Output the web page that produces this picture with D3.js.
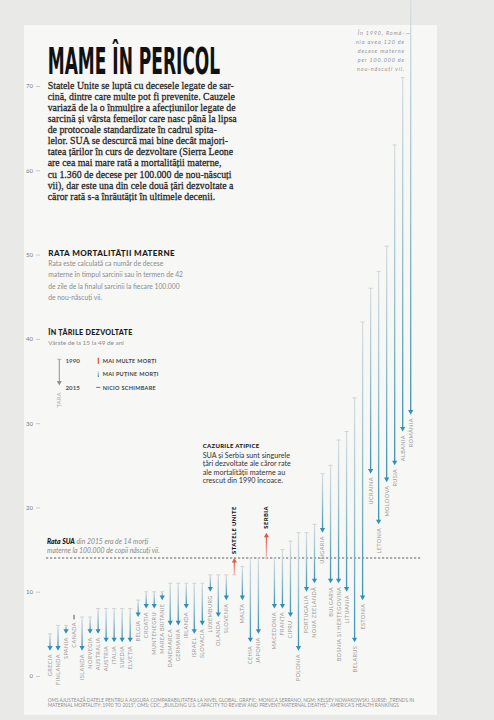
<!DOCTYPE html>
<html><head><meta charset="utf-8">
<script src="https://cdn.jsdelivr.net/npm/d3@7"></script>
<style>
html,body{margin:0;padding:0;background:#e9e9e7;}
svg{display:block;}
</style></head>
<body>
<script>
// ---------- DATA ----------
const countries = ["GRECIA","FINLANDA","SPANIA","CANADA","ISLANDA","NORVEGIA","AUSTRALIA","AUSTRIA","ITALIA","SUEDIA","ELVEȚIA","BELGIA","CROAȚIA","MUNTENEGRU","MAREA BRITANIE","DANEMARCA","GERMANIA","IRLANDA","ISRAEL","SLOVACIA","LUXEMBURG","OLANDA","SLOVENIA","STATELE UNITE","MALTA","CEHIA","JAPONIA","SERBIA","MACEDONIA","FRANȚA","CIPRU","POLONIA","PORTUGALIA","NOUA ZEELANDĂ","UNGARIA","BULGARIA","BOSNIA ȘI HERȚEGOVINA","LITUANIA","BELARUS","ESTONIA","UCRAINA","LETONIA","MOLDOVA","RUSIA","ALBANIA","ROMÂNIA"];
const rate1990 = [5,6,6,7,7,7,8,8,8,8,8,9,10,10,10,11,11,11,11,11,12,12,12,12,13,14,14,14,14,15,16,17,17,18,24,25,28,29,33,42,46,48,51,63,71,120];
const rate2015 = [3,3,5,7,3,5,5,4,4,4,4,7,8,8,9,6,6,8,5,6,10,7,9,14,9,4,5,17,8,8,7,3,10,11,17,11,11,10,4,9,24,18,23,25,29,31];
const yTicks = [0,10,20,30,40,50,60,70];
const usRate2015 = 14;

const title = "MAME ÎN PERICOL";
const introLines = [
"Statele Unite se luptă cu decesele legate de sar-",
"cină, dintre care multe pot fi prevenite. Cauzele",
"variază de la o înmulțire a afecțiunilor legate de",
"sarcină și vârsta femeilor care nasc până la lipsa",
"de protocoale standardizate în cadrul spita-",
"lelor. SUA se descurcă mai bine decât majori-",
"tatea țărilor în curs de dezvoltare (Sierra Leone",
"are cea mai mare rată a mortalității materne,",
"cu 1.360 de decese per 100.000 de nou-născuți",
"vii), dar este una din cele două țări dezvoltate a",
"căror rată s-a înrăutățit în ultimele decenii."];
const rateHead = "RATA MORTALITĂȚII MATERNE";
const rateLines = ["Rata este calculată ca număr de decese","materne în timpul sarcinii sau în termen de 42","de zile de la finalul sarcinii la fiecare 100.000","de nou-născuți vii."];
const devHead = "ÎN ȚĂRILE DEZVOLTATE";
const devSub = "Vârste de la 15 la 49 de ani";
const legendYears = ["1990","2015"];
const legendCountry = "ȚARA";
const legendItems = ["MAI MULTE MORȚI","MAI PUȚINE MORȚI","NICIO SCHIMBARE"];
const outlierHead = "CAZURILE ATIPICE";
const outlierLines = ["SUA și Serbia sunt singurele","țări dezvoltate ale căror rate","ale mortalității materne au","crescut din 1990 încoace."];
const usNoteBold = "Rata SUA";
const usNoteLines = [" din 2015 era de 14 morți","materne la 100.000 de copii născuți vii."];
const romaniaNote = ["În 1990, Româ-","nia avea 120 de","decese materne","per 100.000 de","nou-născuți vii."];
const footerLines = ["OMS AJUSTEAZĂ DATELE PENTRU A ASIGURA COMPARABILITATEA LA NIVEL GLOBAL. GRAFIC: MONICA SERRANO, NGM; KELSEY NOWAKOWSKI. SURSE: „TRENDS IN",
"MATERNAL MORTALITY: 1990 TO 2015”, OMS; CDC, „BUILDING U.S. CAPACITY TO REVIEW AND PREVENT MATERNAL DEATHS”; AMERICA'S HEALTH RANKINGS"];

// ---------- SETUP ----------
const W = 494, H = 720;
const svg = d3.select("body").append("svg").attr("width", W).attr("height", H);
const defs = svg.append("defs");
const gDown = defs.append("linearGradient").attr("id","gDown").attr("x1",0).attr("y1",0).attr("x2",0).attr("y2",1);
gDown.append("stop").attr("offset","0%").attr("stop-color","#dadee1");
gDown.append("stop").attr("offset","45%").attr("stop-color","#9cc3d4");
gDown.append("stop").attr("offset","100%").attr("stop-color","#3d92b6");
const gUp = defs.append("linearGradient").attr("id","gUp").attr("x1",0).attr("y1",0).attr("x2",0).attr("y2",1);
gUp.append("stop").attr("offset","0%").attr("stop-color","#e25a46");
gUp.append("stop").attr("offset","100%").attr("stop-color","#efc4bc");

const SANS = "Lato, 'Open Sans', sans-serif";

// card
svg.append("rect").attr("x",24).attr("y",25).attr("width",413).attr("height",690).attr("fill","#f7f7f5");

const x = d3.scalePoint().domain(countries).range([50, 410.7]);
const y = d3.scaleLinear().domain([0,70]).range([676, 86]);

// helpers
function fitFont(sel, target, base) {
  let mx = 0;
  sel.each(function(){ mx = Math.max(mx, this.getComputedTextLength()); });
  sel.style("font-size", (base*target/mx) + "px");
}

// axis
const axis = d3.axisLeft(y).tickValues(yTicks).tickSize(4).tickPadding(3);
const ga = svg.append("g").attr("transform","translate(40,0)").call(axis);
ga.select(".domain").remove();
ga.selectAll(".tick line").attr("stroke","#b8b8b8").attr("stroke-width",0.7);
ga.selectAll(".tick text").attr("fill","#7a7a7a").style("font-family",SANS).style("font-size","6px");

// title
svg.append("text").attr("x",47.7).attr("y",74).text(title)
  .style("font-family","'Liberation Sans Narrow','DejaVu Sans Condensed','Roboto Condensed',sans-serif")
  .style("font-weight","bold").style("font-size","37.5px").attr("fill","#111")
  .attr("textLength",172.5).attr("lengthAdjust","spacingAndGlyphs");

// intro paragraph
const gi = svg.append("g");
const introT = gi.selectAll("text").data(introLines).join("text")
  .attr("x",47.7).attr("y",(d,i)=>88.6 + i*11.13).text(d=>d)
  .attr("fill","#232323").attr("stroke","#232323").attr("stroke-width",0.25)
  .style("font-family","'Liberation Serif','DejaVu Serif',serif").style("font-size","10.8px");
{
  let mx = 0; introT.each(function(){ mx = Math.max(mx, this.getComputedTextLength()); });
  const sx = 189/mx;
  gi.attr("transform",`translate(${47.7*(1-sx)},0) scale(${sx},1)`);
}

// rate heading & description
const rh = svg.append("text").attr("x",48.3).attr("y",255.6).text(rateHead)
  .attr("fill","#1a1a1a").style("font-family",SANS).style("font-weight","900").style("letter-spacing","0.4px").style("font-size","8px");
fitFont(rh, 127, 8);
const rl = svg.selectAll(".rl").data(rateLines).join("text").attr("class","rl")
  .attr("x",48.3).attr("y",(d,i)=>265.7 + i*11.45).text(d=>d)
  .attr("fill","#8c8c8c").style("font-family",SANS).style("font-size","7px");
fitFont(rl, 135, 7);

const dh = svg.append("text").attr("x",48.3).attr("y",334.6).text(devHead)
  .attr("fill","#1a1a1a").style("font-family",SANS).style("font-weight","900").style("letter-spacing","0.3px").style("font-size","7.5px");
fitFont(dh, 84, 7.5);
const ds = svg.append("text").attr("x",48.3).attr("y",345).text(devSub)
  .attr("fill","#8c8c8c").style("font-family",SANS).style("font-size","7px");
fitFont(ds, 75.7, 7);

// legend
const lg = svg.append("g");
lg.append("line").attr("x1",59.3).attr("x2",59.3).attr("y1",359.3).attr("y2",382).attr("stroke","#9a9a9a").attr("stroke-width",1.1);
lg.append("line").attr("x1",57.3).attr("x2",61.3).attr("y1",359.3).attr("y2",359.3).attr("stroke","#9a9a9a").attr("stroke-width",0.8);
lg.append("path").attr("d","M56.9,381 L61.7,381 L59.3,385.5 Z").attr("fill","#8e8e8e");
lg.selectAll(".yr").data(legendYears).join("text").attr("class","yr")
  .attr("x",65.5).attr("y",(d,i)=>[363.4,389.5][i]).text(d=>d)
  .attr("fill","#555").style("font-family",SANS).style("font-weight","700").style("font-size","6.2px");
lg.append("text").attr("transform","translate(61.3,392) rotate(-90)").attr("text-anchor","end").text(legendCountry)
  .attr("fill","#aaa").style("font-family",SANS).style("font-size","5.6px").style("letter-spacing","0.4px");
lg.append("rect").attr("x",97.7).attr("y",357.8).attr("width",1.3).attr("height",6).attr("fill","#e25a46");
lg.append("rect").attr("x",97.7).attr("y",371).attr("width",1.3).attr("height",6).attr("fill","url(#gDown)");
lg.append("line").attr("x1",96.2).attr("x2",100.4).attr("y1",387.4).attr("y2",387.4).attr("stroke","#666").attr("stroke-width",0.9);
const li = lg.selectAll(".li").data(legendItems).join("text").attr("class","li")
  .attr("x",102.7).attr("y",(d,i)=>[363.4,376.2,389.5][i]).text(d=>d)
  .attr("fill","#444").style("font-family",SANS).style("font-weight","700").style("letter-spacing","0.3px").style("font-size","6.3px");
fitFont(li, 55.6, 6.3);

// outlier note
const oh = svg.append("text").attr("x",202.7).attr("y",448.3).text(outlierHead)
  .attr("fill","#1a1a1a").style("font-family",SANS).style("font-weight","900").style("letter-spacing","0.3px").style("font-size","7px");
fitFont(oh, 56.3, 7);
const ol = svg.selectAll(".ol").data(outlierLines).join("text").attr("class","ol")
  .attr("x",202.7).attr("y",(d,i)=>457.8 + i*8.45).text(d=>d)
  .attr("fill","#333").style("font-family",SANS).style("font-size","7px");
fitFont(ol, 88.3, 7);

// US note
const un = svg.append("g");
const u1 = un.append("text").attr("x",47).attr("y",544.2)
  .style("font-family",SANS).style("font-style","italic").style("font-size","6.6px");
u1.append("tspan").text(usNoteBold).attr("fill","#111").style("font-weight","900");
u1.append("tspan").text(usNoteLines[0]).attr("fill","#8a8a8a");
const u2 = un.append("text").attr("x",47).attr("y",553.2).text(usNoteLines[1])
  .attr("fill","#8a8a8a").style("font-family",SANS).style("font-style","italic").style("font-size","6.6px");
{
  const w = u2.node().getComputedTextLength();
  const fs = 6.6*113/w;
  u1.style("font-size",fs+"px"); u2.style("font-size",fs+"px");
}

// US dashed line
svg.append("line").attr("x1",46).attr("x2",421).attr("y1",y(usRate2015)).attr("y2",y(usRate2015))
  .attr("stroke","#3a3a3a").attr("stroke-width",0.8).attr("stroke-dasharray","2.2,1.8");

// Romania note: separate small lines
const rn = svg.selectAll(".rn").data(romaniaNote).join("text").attr("class","rn")
  .attr("x",405).attr("y",(d,i)=>35.4 + i*9).attr("text-anchor","end").text(d=>d)
  .attr("font-size",5.4).attr("fill","#959595")
  .style("font-family",SANS).style("font-style","italic").style("font-size","5.4px");
{
  const w = rn.filter((d,i)=>i===2).node().getComputedTextLength();
  const ls = Math.max(0,(47.3 - w)/romaniaNote[2].length);
  rn.style("letter-spacing", ls+"px");
}
svg.append("line").attr("x1",405.8).attr("x2",410.5).attr("y1",33.6).attr("y2",33.6).attr("stroke","#aaa").attr("stroke-width",0.6);

// ---------- ARROWS ----------
const data = countries.map((c,i)=>({c, a:rate1990[i], b:rate2015[i]}));
const ga2 = svg.append("g");
data.forEach(d=>{
  const cx = x(d.c);
  const ya = y(d.a), yb = y(d.b);
  const g = ga2.append("g");
  if (d.b < d.a) {
    const top = Math.max(ya, -5);
    g.append("rect").attr("x",cx-0.65).attr("y",top).attr("width",1.3).attr("height",(yb-3.5)-top).attr("fill","url(#gDown)");
    g.append("line").attr("x1",cx-2).attr("x2",cx+2).attr("y1",ya).attr("y2",ya).attr("stroke","#c6cbce").attr("stroke-width",0.8);
    g.append("path").attr("d",`M${cx-2.6},${yb-4.6} L${cx+2.6},${yb-4.6} L${cx},${yb} Z`).attr("fill","#348fb4");
    g.append("text").attr("transform",`translate(${cx},${yb+3.5}) rotate(-90)`).attr("dy","0.35em")
      .attr("text-anchor","end").text(d.c).attr("fill","#9b9b9b")
      .style("font-family",SANS).style("font-size","5.6px").style("letter-spacing","0.35px");
  } else if (d.b > d.a) {
    g.append("rect").attr("x",cx-0.65).attr("y",yb+3.5).attr("width",1.3).attr("height",ya-(yb+3.5)).attr("fill","url(#gUp)");
    g.append("line").attr("x1",cx-2).attr("x2",cx+2).attr("y1",ya).attr("y2",ya).attr("stroke","#e2bdb6").attr("stroke-width",0.8);
    g.append("path").attr("d",`M${cx-2.6},${yb+4.6} L${cx+2.6},${yb+4.6} L${cx},${yb} Z`).attr("fill","#e25a46");
    g.append("text").attr("transform",`translate(${cx},${yb-4}) rotate(-90)`).attr("dy","0.35em")
      .attr("text-anchor","start").text(d.c).attr("fill","#111")
      .style("font-family",SANS).style("font-weight","900").style("font-size","5.8px").style("letter-spacing","0.45px");
  } else {
    g.append("line").attr("x1",cx).attr("x2",cx).attr("y1",ya-2.2).attr("y2",ya+2.4).attr("stroke","#555").attr("stroke-width",1);
    g.append("text").attr("transform",`translate(${cx},${ya+5}) rotate(-90)`).attr("dy","0.35em")
      .attr("text-anchor","end").text(d.c).attr("fill","#9b9b9b")
      .style("font-family",SANS).style("font-size","5.6px").style("letter-spacing","0.35px");
  }
});

// footer
const ft = svg.selectAll(".ft").data(footerLines).join("text").attr("class","ft")
  .attr("x",47.7).attr("y",(d,i)=>701.6 + i*5.8).text(d=>d)
  .attr("fill","#8e8e8e").style("font-family",SANS).style("font-size","4.5px");
fitFont(ft, 368, 4.5);
</script>
</body></html>
